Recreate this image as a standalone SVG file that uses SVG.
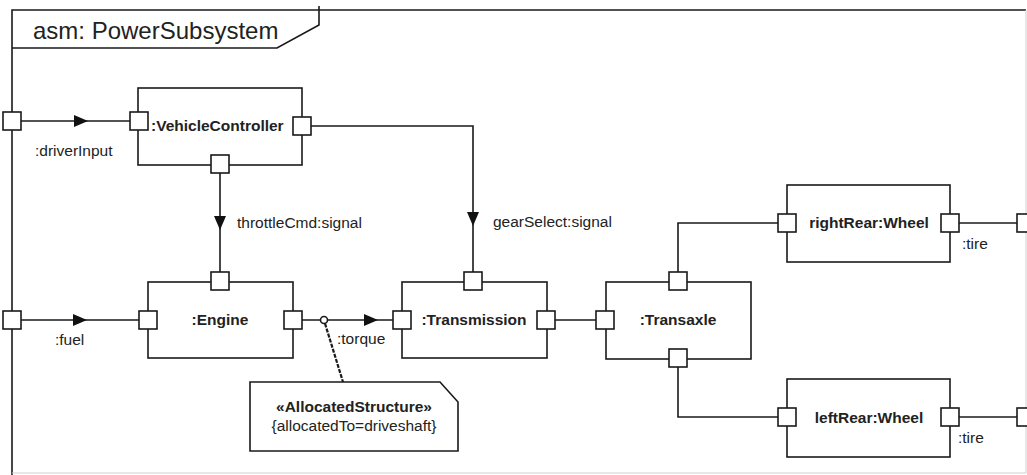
<svg xmlns="http://www.w3.org/2000/svg" xmlns:xlink="http://www.w3.org/1999/xlink" width="1027" height="475" viewBox="0 0 1027 475">
<style>
  .ln{fill:none;stroke:#1a1a1a;stroke-width:1.6}
  .box{fill:#fff;stroke:#1a1a1a;stroke-width:1.6}
  .port{fill:#fff;stroke:#1a1a1a;stroke-width:1.6}
  .t{font-family:"Liberation Sans",Arial,sans-serif;font-size:15.5px;fill:#222}
  .b{font-family:"Liberation Sans",Arial,sans-serif;font-size:15.5px;font-weight:bold;fill:#222}
  .title{font-family:"Liberation Sans",Arial,sans-serif;font-size:24px;fill:#222}
</style>
<defs>
  <path id="arr" d="M-7,-6 L7,0 L-7,6 Z" fill="#111"/>
  <rect id="p" x="-9" y="-9" width="18" height="18" class="port"/>
</defs>
<rect width="1027" height="475" fill="#fff"/>

<g id="frame">
  <path class="ln" d="M12,475 V10 H1026"/>
  <path d="M1026,10 V473 H12" fill="none" stroke="#cfcfcf" stroke-width="1"/>
  <path class="ln" d="M12,48 H277 L319,25 V6"/>
  <text class="title" x="33" y="39">asm: PowerSubsystem</text>
  <use href="#p" x="12" y="121"/>
  <use href="#p" x="12" y="320"/>
  <use href="#p" x="1026" y="223"/>
  <use href="#p" x="1026" y="417"/>
</g>

<g id="connectors">
  <path class="ln" d="M21,121 H130"/>
  <use href="#arr" x="81" y="121"/>
  <path class="ln" d="M21,320 H139"/>
  <use href="#arr" x="80" y="320"/>
  <path class="ln" d="M220,173 V272"/>
  <use href="#arr" transform="translate(220,223) rotate(90)"/>
  <path class="ln" d="M311,126 H473 V272"/>
  <use href="#arr" transform="translate(473,219) rotate(90)"/>
  <path class="ln" d="M302,320 H393"/>
  <use href="#arr" x="371" y="320"/>
  <circle cx="324" cy="320" r="3.5" fill="#fff" stroke="#1a1a1a" stroke-width="1.6"/>
  <path d="M325,323.5 L343,382" fill="none" stroke="#1a1a1a" stroke-width="2.2" stroke-dasharray="4,1.3"/>
  <path class="ln" d="M555,320 H596"/>
  <path class="ln" d="M678,272 V223 H778"/>
  <path class="ln" d="M678,367 V417 H778"/>
  <path class="ln" d="M959,223 H1017"/>
  <path class="ln" d="M959,417 H1017"/>
  <text class="t" x="35" y="156">:driverInput</text>
  <text class="t" x="55" y="345">:fuel</text>
  <text class="t" x="237" y="228">throttleCmd:signal</text>
  <text class="t" x="493" y="227">gearSelect:signal</text>
  <text class="t" x="337" y="344">:torque</text>
  <text class="t" x="962" y="249">:tire</text>
  <text class="t" x="958" y="443">:tire</text>
</g>

<g id="VehicleController">
  <rect class="box" x="138" y="88" width="164" height="77"/>
  <use href="#p" x="139" y="121"/>
  <use href="#p" x="302" y="126"/>
  <use href="#p" x="220" y="164"/>
  <text class="b" x="151" y="131">:VehicleController</text>
</g>

<g id="Engine">
  <rect class="box" x="148" y="282" width="145" height="76"/>
  <use href="#p" x="220" y="281"/>
  <use href="#p" x="148" y="320"/>
  <use href="#p" x="293" y="320"/>
  <text class="b" x="220" y="325" text-anchor="middle">:Engine</text>
</g>

<g id="Transmission">
  <rect class="box" x="402" y="282" width="145" height="76"/>
  <use href="#p" x="473" y="281"/>
  <use href="#p" x="402" y="320"/>
  <use href="#p" x="546" y="320"/>
  <text class="b" x="474" y="325" text-anchor="middle">:Transmission</text>
</g>

<g id="Transaxle">
  <rect class="box" x="606" y="282" width="145" height="77"/>
  <use href="#p" x="678" y="281"/>
  <use href="#p" x="605" y="320"/>
  <use href="#p" x="678" y="358"/>
  <text class="b" x="678" y="325" text-anchor="middle">:Transaxle</text>
</g>

<g id="rightRear">
  <rect class="box" x="787" y="185" width="163" height="77"/>
  <use href="#p" x="787" y="223"/>
  <use href="#p" x="950" y="223"/>
  <text class="b" x="869" y="228" text-anchor="middle">rightRear:Wheel</text>
</g>

<g id="leftRear">
  <rect class="box" x="787" y="379" width="163" height="78"/>
  <use href="#p" x="787" y="417"/>
  <use href="#p" x="950" y="417"/>
  <text class="b" x="869" y="423" text-anchor="middle">leftRear:Wheel</text>
</g>

<g id="note">
  <path class="box" d="M250,382 H440 L458,402 V451 H250 Z"/>
  <text class="b" x="354" y="412" text-anchor="middle">«AllocatedStructure»</text>
  <text class="t" x="354" y="431" text-anchor="middle">{allocatedTo=driveshaft}</text>
</g>
</svg>
